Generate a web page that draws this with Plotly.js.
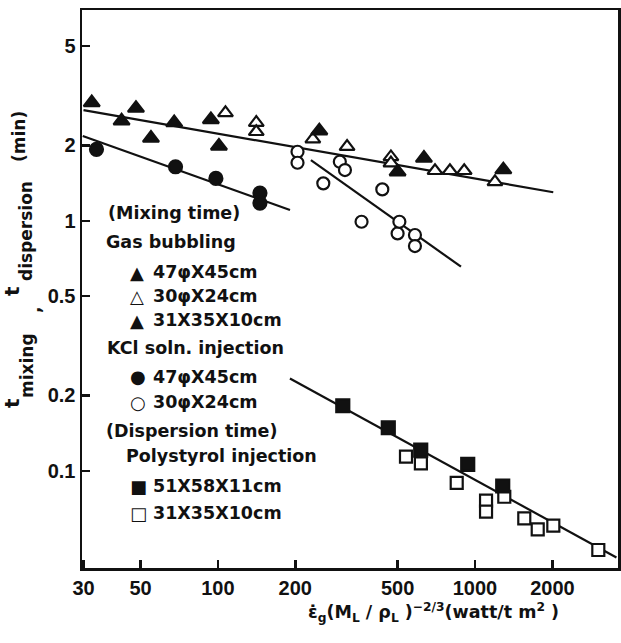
<!DOCTYPE html>
<html>
<head>
<meta charset="utf-8">
<script src="https://cdn.plot.ly/plotly-3.0.1.min.js"></script>
<style>html,body{margin:0;padding:0;background:#fff;}</style>
</head>
<body>
<div id="chart" style="width:621px;height:643px;"></div>
<script>
// ---- Data ----
// Gas bubbling, 47φ X 45cm (filled triangles)
const gas47_x = [32.3, 42.2, 48.0, 54.9, 67.6, 93.9, 100.9];
const gas47_y = [2.97, 2.51, 2.82, 2.14, 2.47, 2.54, 1.99];
// Gas bubbling, 30φ X 24cm (open triangles)
const gas30_x = [107, 141, 141, 234, 318, 471, 471, 699, 799, 908, 1196];
const gas30_y = [2.70, 2.47, 2.27, 2.12, 1.98, 1.80, 1.70, 1.585, 1.585, 1.585, 1.43];
// Gas bubbling, 31X35X10cm (filled triangles)
const gas31_x = [248, 500, 633, 1289];
const gas31_y = [2.29, 1.57, 1.78, 1.60];
// KCl soln. injection, 47φ X 45cm (filled circles)
const kcl47_x = [33.7, 68.4, 98.2, 145.7, 145.7];
const kcl47_y = [1.93, 1.644, 1.477, 1.291, 1.177];
// KCl soln. injection, 30φ X 24cm (open circles)
const kcl30_x = [204, 204, 257, 298, 312, 362, 436, 500, 508, 584, 584];
const kcl30_y = [1.888, 1.706, 1.411, 1.722, 1.595, 0.991, 1.335, 0.890, 0.991, 0.877, 0.792];
// Polystyrol injection, 51X58X11cm (filled squares)
const poly51_x = [306, 460, 615, 937, 1282];
const poly51_y = [0.182, 0.1486, 0.121, 0.106, 0.0869];
// Polystyrol injection, 31X35X10cm (open squares)
const poly31_x = [539, 616, 849, 1104, 1104, 1300, 1555, 1754, 2017, 3018];
const poly31_y = [0.1138, 0.107, 0.0895, 0.0759, 0.0686, 0.0787, 0.0645, 0.0583, 0.0603, 0.0482];
// Fitted lines (end points)
const fitGas_x = [30, 2016];   const fitGas_y = [2.77, 1.30];
const fitKcl47_x = [29.8, 190.7]; const fitKcl47_y = [2.183, 1.104];
const fitKcl30_x = [230, 882]; const fitKcl30_y = [1.749, 0.655];
const fitPoly_x = [190.6, 3550]; const fitPoly_y = [0.234, 0.045];
// Tick labels
const xTicks = [30, 50, 100, 200, 500, 1000, 2000];
const xTickText = ['30', '50', '100', '200', '500', '1000', '2000'];
const yTicks = [0.1, 0.2, 0.5, 1, 2, 5];
const yTickText = ['0.1', '0.2', '0.5', '1', '2', '5'];

// ---- Styling ----
const FONT = 'Liberation Sans, Arial, sans-serif';
const FONT2 = 'DejaVu Sans, Liberation Sans, sans-serif';
const black = '#111';
function line(x, y) {
  return {x: x, y: y, mode: 'lines', type: 'scatter', showlegend: false,
          line: {color: black, width: 2.2}, hoverinfo: 'skip'};
}
function pts(x, y, symbol, filled, size) {
  return {x: x, y: y, mode: 'markers', type: 'scatter', showlegend: false,
          marker: {symbol: symbol, size: size, color: filled ? black : '#fff',
                   line: {color: black, width: 2.2}}};
}
const traces = [
  line(fitGas_x, fitGas_y), line(fitKcl47_x, fitKcl47_y),
  line(fitKcl30_x, fitKcl30_y), line(fitPoly_x, fitPoly_y),
  pts(gas30_x, gas30_y, 'triangle-up', false, 13),
  pts(gas47_x, gas47_y, 'triangle-up', true, 14),
  pts(gas31_x, gas31_y, 'triangle-up', true, 14),
  pts(kcl30_x, kcl30_y, 'circle', false, 12),
  pts(kcl47_x, kcl47_y, 'circle', true, 13),
  pts(poly31_x, poly31_y, 'square', false, 12),
  pts(poly51_x, poly51_y, 'square', true, 13)
];

// page pixel -> paper coords
const L = 82, T = 10, W = 536, H = 558;
const px = v => (v - L) / W;
const py = v => (T + H - v) / H;

function txt(text, x, y, size, opts, fam) {
  return Object.assign({text: text, xref: 'paper', yref: 'paper', x: px(x), y: py(y),
    showarrow: false, xanchor: 'left', yanchor: 'middle',
    font: {family: fam || FONT2, size: size, color: black, weight: 'bold'}}, opts || {});
}
function vtxt(text, x, y, size) {
  return txt(text, x, y, size, {textangle: -90, xanchor: 'center', yanchor: 'middle'}, FONT2);
}
const LS = 17.5, SS = 18;
const annotations = [
  // legend
  txt('(Mixing time)', 106, 213, LS),
  txt('Gas bubbling', 104, 242, LS),
  txt('▲', 128, 272, SS), txt('47φX45cm', 151, 272, LS),
  txt('△', 128, 296, SS), txt('30φX24cm', 151, 296, LS),
  txt('▲', 128, 320, SS), txt('31X35X10cm', 151, 320, LS),
  txt('KCl soln. injection', 105, 348, LS),
  txt('●', 128, 377, SS), txt('47φX45cm', 151, 377, LS),
  txt('○', 128, 402, SS), txt('30φX24cm', 151, 402, LS),
  txt('(Dispersion time)', 104, 431, LS),
  txt('Polystyrol injection', 124, 456, LS),
  txt('■', 128, 486, SS), txt('51X58X11cm', 151, 486, LS),
  txt('□', 128, 513, SS), txt('31X35X10cm', 151, 513, LS),
  // y axis title
  vtxt('t', 12, 403, 20),
  vtxt('mixing', 27, 366, 17),
  vtxt(',', 34, 310, 17),
  vtxt('t', 12, 291, 20),
  vtxt('dispersion', 26, 231, 17),
  vtxt('(min)', 19, 137, 17),
  // x axis title
  txt('ε̇<sub>g</sub>(M<sub>L</sub> / ρ<sub>L</sub> )<sup>−2/3</sup>(watt/t m<sup>2</sup> )', 433, 612, 17.5,
      {xanchor: 'center'})
];

const axisCommon = {
  type: 'log', showgrid: false, zeroline: false, showline: true, mirror: true,
  linecolor: black, linewidth: 2.5, ticks: 'inside', ticklen: 8, tickwidth: 2.5,
  tickcolor: black, tickmode: 'array',
  tickfont: {family: FONT, size: 20, color: black, weight: 'bold'}
};

const layout = {
  width: 621, height: 643,
  margin: {l: L, r: 621 - L - W, t: T, b: 643 - T - H, pad: 0},
  paper_bgcolor: '#fff', plot_bgcolor: '#fff',
  showlegend: false,
  xaxis: Object.assign({}, axisCommon, {range: [Math.log10(29.6), Math.log10(3600)],
    tickvals: xTicks, ticktext: xTickText}),
  yaxis: Object.assign({}, axisCommon, {range: [-1.389, 0.843],
    tickvals: yTicks, ticktext: yTickText}),
  annotations: annotations
};

Plotly.newPlot('chart', traces, layout, {staticPlot: true, displayModeBar: false});
</script>
</body>
</html>
